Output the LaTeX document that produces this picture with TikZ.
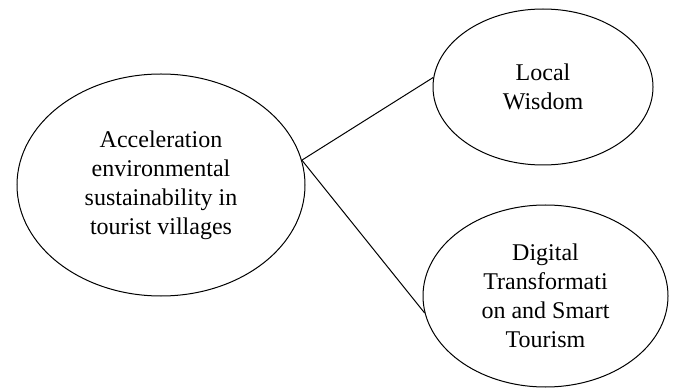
\documentclass[tikz,border=0pt]{standalone}
\usepackage{fontspec}
\setmainfont{Liberation Serif}
\usetikzlibrary{shapes.geometric}

\begin{document}
\begin{tikzpicture}[
    x=0.5pt, y=0.5pt,
    font=\fontsize{12}{14.5}\selectfont,
    bubble/.style ={ellipse, draw, line width=0.5pt, align=center,
                    inner sep=0pt, fill=white},
    link/.style   ={line width=0.5pt}
]
\useasboundingbox (0,0) rectangle (674,391);

% Main construct on the left
\node[bubble, minimum width=144pt, minimum height=111pt] (accel) at (161,206)
    {Acceleration\\environmental\\sustainability in\\tourist villages};

% Two constructs on the right
\node[bubble, minimum width=110pt, minimum height=78pt] (wisdom) at (543,304)
    {Local\\Wisdom};
\node[bubble, minimum width=122.5pt, minimum height=91pt] (digital) at (545.5,95)
    {Digital\\Transformati\\on and Smart\\Tourism};

% --- Links ---
\draw[link] (accel.10.8) -- (wisdom.175.4);
\draw[link] (accel.10.8) -- (digital.188);

\end{tikzpicture}
\end{document}
